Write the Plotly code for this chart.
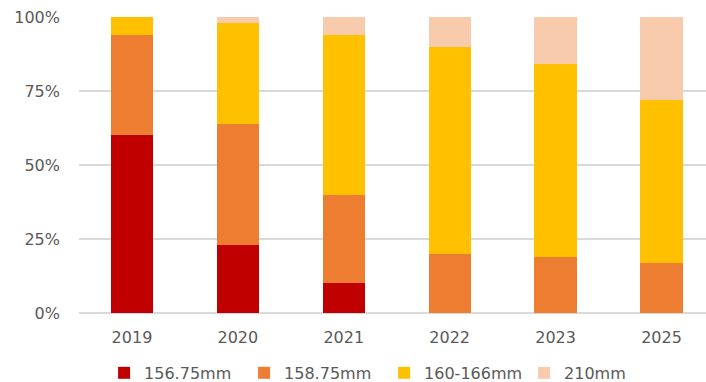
import plotly.graph_objects as go

years = ["2019", "2020", "2021", "2022", "2023", "2025"]
s156 = [60, 23, 10, 0, 0, 0]
s158 = [34, 41, 30, 20, 19, 17]
s160 = [6, 34, 54, 70, 65, 55]
s210 = [0, 2, 6, 10, 16, 28]

series = [
    ("156.75mm", s156, "#C00000"),
    ("158.75mm", s158, "#ED7D31"),
    ("160-166mm", s160, "#FFC000"),
    ("210mm", s210, "#F8CBAD"),
]

fig = go.Figure()
for name, vals, col in series:
    fig.add_trace(go.Bar(
        x=years, y=[v / 100 for v in vals], name=name,
        marker=dict(color=col, line=dict(width=0)),
    ))

font = dict(family="DejaVu Sans", size=16, color="#595959")
fig.update_layout(
    barmode="stack",
    bargap=0.6,
    width=706, height=382,
    margin=dict(l=79, r=0, t=17, b=69, autoexpand=False),
    paper_bgcolor="white", plot_bgcolor="white",
    font=font,
    showlegend=True,
    legend=dict(orientation="h", x=0.04, xanchor="left", y=-0.145, yanchor="top",
                font=dict(family="DejaVu Sans", size=16, color="#595959"),
                itemwidth=30, traceorder="normal", tracegroupgap=0,
                entrywidth=95, entrywidthmode="pixels"),
    xaxis=dict(type="category", range=[-0.5, 5.42], showgrid=False,
               showline=False, zeroline=False, ticks="", ticklabelstandoff=13,
               tickfont=font),
    yaxis=dict(range=[0, 1], tickvals=[0, 0.25, 0.5, 0.75, 1.0], tickformat=".0%",
               showgrid=True, gridcolor="#D9D9D9", gridwidth=1.5,
               zeroline=True, zerolinecolor="#D9D9D9", zerolinewidth=1.5,
               showline=False, ticks="", ticklabelstandoff=18, tickfont=font),
)
fig.write_html("out.html")
